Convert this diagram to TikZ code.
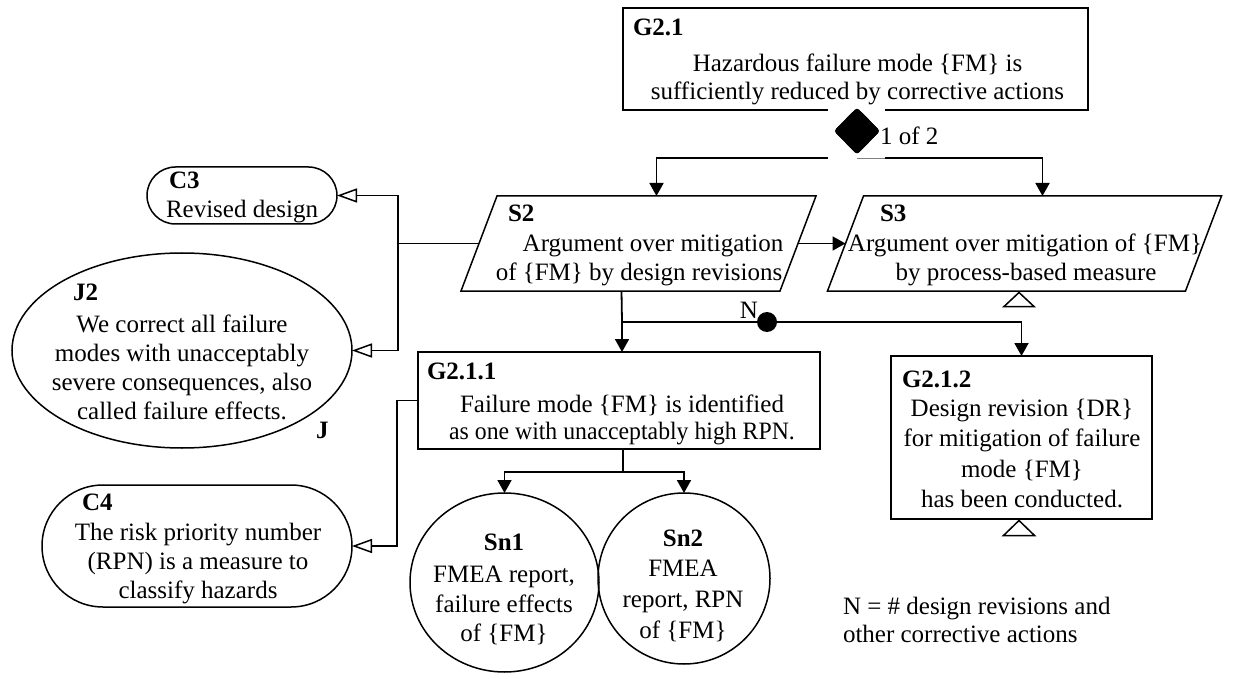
\documentclass[tikz,border=0pt]{standalone}
\usepackage{fontspec}
\usepackage{graphicx}
\setmainfont{Liberation Serif}
\usetikzlibrary{shapes.geometric,arrows.meta,calc}
\begin{document}
\begin{tikzpicture}[x=1pt,y=-1pt,
  every node/.style={font=\fontsize{25}{30}\selectfont, inner sep=0pt, outer sep=0pt},
  boxshape/.style={draw, line width=1.5pt, rectangle},
  parabase/.style={rectangle},
  paraline/.style={line width=1.5pt},
  ell/.style={draw, line width=1.5pt, ellipse},
  ctx/.style={draw, line width=1.5pt, rectangle},
  lb/.style={anchor=base west, font=\fontsize{25}{30}\selectfont\bfseries},
  ln/.style={anchor=base},
  lw/.style={anchor=base west},
  conn/.style={line width=1.8pt},
  arr/.style={line width=1.8pt, -{Triangle[length=13pt,width=14pt]}},
  oarr/.style={line width=1.8pt, -{Triangle[open,length=20pt,width=14pt,line width=1.5pt]}},
  undev/.style={line width=1.5pt}
]
\useasboundingbox (0,0) rectangle (1240,679);

% ---------- shapes ----------
\node[boxshape, minimum width=465, minimum height=102] (G21) at (855.5,59) {};
\node[parabase, minimum width=319, minimum height=95] (S2) at (638.5,243.5) {};
\draw[paraline] ($(S2.south west)+(-18,0)$) -- ($(S2.south east)+(-18,0)$) -- ($(S2.north east)+(18,0)$) -- ($(S2.north west)+(18,0)$) -- cycle;
\node[parabase, minimum width=358, minimum height=95] (S3) at (1024.5,243.5) {};
\draw[paraline] ($(S3.south west)+(-18,0)$) -- ($(S3.south east)+(-18,0)$) -- ($(S3.north east)+(18,0)$) -- ($(S3.north west)+(18,0)$) -- cycle;
\node[ctx, rounded corners=28.5, minimum width=190, minimum height=57] (C3) at (242,195.5) {};
\node[ell, minimum width=340, minimum height=195] (J2) at (182,350.5) {};
\node[boxshape, minimum width=402, minimum height=97] (G211) at (619,400.5) {};
\node[boxshape, minimum width=261, minimum height=163] (G212) at (1021.5,437.5) {};
\node[ctx, rounded corners=61, minimum width=310, minimum height=122] (C4) at (197,546) {};
\node[ell, minimum width=189, minimum height=179] (Sn1) at (504.5,582.5) {};
\node[ell, minimum width=172, minimum height=171] (Sn2) at (684,578.5) {};

% ---------- texts ----------
\node[lb] (tG21) at (633,36) {G2.1};
\node[ln] (bG21a) at (857.5,72) {Hazardous failure mode \{FM\} is};
\node[ln] (bG21b) at (857.5,100) {sufficiently reduced by corrective actions};
\node[lw] (t1of2) at (880,145) {1 of 2};
\node[lb] (tS2) at (508,222) {S2};
\node[ln] (bS2a) at (653,252) {Argument over mitigation};
\node[ln] (bS2b) at (639,280) {of \{FM\} by design revisions};
\node[lb] (tS3) at (880,222) {S3};
\node[ln] (bS3a) at (1025,252) {Argument over mitigation of \{FM\}};
\node[ln] (bS3b) at (1026,280) {by process-based measure};
\node[lb] (tC3) at (169,189) {C3};
\node[lw] (bC3) at (166,218) {Revised design};
\node[lb] (tJ2) at (73,300) {J2};
\node[ln] (bJ2a) at (182,332) {We correct all failure};
\node[ln] (bJ2b) at (182,361) {modes with unacceptably};
\node[ln] (bJ2c) at (182,390) {severe consequences, also};
\node[ln] (bJ2d) at (182,419) {called failure effects.};
\node[lb] (tJ) at (316,438) {J};
\node[lb] (tG211) at (427,379) {G2.1.1};
\node[ln] (bG211a) at (622,412) {Failure mode \{FM\} is identified};
\node[ln] (bG211b) at (622,439) {\scalebox{0.95}[1]{as one with unacceptably high RPN.}};
\node[lb] (tG212) at (902,387) {G2.1.2};
\node[ln] (bG212a) at (1022,416) {Design revision \{DR\}};
\node[ln] (bG212b) at (1022,446) {for mitigation of failure};
\node[ln] (bG212c) at (1022,477) {mode \{FM\}};
\node[ln] (bG212d) at (1022,507) {has been conducted.};
\node[lb] (tC4) at (82,510) {C4};
\node[ln] (bC4a) at (198,540) {The risk priority number};
\node[ln] (bC4b) at (198,569) {(RPN) is a measure to};
\node[ln] (bC4c) at (198,598) {classify hazards};
\node[ln, font=\fontsize{25}{30}\selectfont\bfseries] (tSn1) at (504,550) {Sn1};
\node[ln] (bSn1a) at (504,582) {FMEA report,};
\node[ln] (bSn1b) at (504,612) {failure effects};
\node[ln] (bSn1c) at (504,641) {of \{FM\}};
\node[ln, font=\fontsize{25}{30}\selectfont\bfseries] (tSn2) at (683,546) {Sn2};
\node[ln] (bSn2a) at (683,576) {FMEA};
\node[ln] (bSn2b) at (683,607) {report, RPN};
\node[ln] (bSn2c) at (683,638) {of \{FM\}};
\node[lw] (noteA) at (843,614) {N = \# design revisions and};
\node[lw] (noteB) at (843,642) {other corrective actions};
\node[anchor=base east] (tN) at (758,318) {N};

% ---------- connectors ----------
\node[diamond, fill=black, rounded corners=3pt, minimum width=46, minimum height=47] (D) at (857,131) {};
\coordinate (dL) at ($(D.south)+(-29,3.5)$);
\coordinate (dR) at ($(D.south)+(28,3.5)$);
\draw[arr] (dL) -| ($(S2.north)+(18,0)$);
\draw[arr] (dR) -| ($(S3.north)+(18,0)$);
\draw[gray, line width=0.8pt] ($(D.south)+(0,3.5)$) -- (dR);
\fill[white] ($(G21.south)+(-27.5,-3)$) rectangle ($(G21.south)+(29.5,2)$);
\node[diamond, fill=black, rounded corners=3pt, minimum width=46, minimum height=47] at (D) {};

\draw[arr] (S2.east) -- (S3.west);
\coordinate (jL) at (398,243.5);
\draw[conn] (S2.west) -- (jL);
\draw[oarr] (jL) |- (C3.east);
\draw[oarr] (jL) |- (J2.east);

\coordinate (jB) at (622,322);
\draw[conn] ($(S2.south)+(-17,0)$) -- (jB);
\draw[arr] (jB) -- (jB |- G211.north);
\draw[arr] (jB) -| (G212.north);
\node[circle, fill=black, minimum size=20] (Ndot) at (767,322) {};

\draw[oarr] (G211.west) -- ++(-21,0) |- (C4.east);

\coordinate (jS) at (623,472);
\draw[conn] (G211.south -| jS) -- (jS);
\draw[arr] (jS) -| (Sn1.north);
\draw[arr] (jS) -| (Sn2.north);

% ---------- undeveloped markers ----------
\draw[undev] ($(S3.south)+(-5.5,1.5)$) -- ++(15,14) -- ++(-30,0) -- cycle;
\draw[undev] ($(G212.south)+(-2.5,1.5)$) -- ++(15.5,15) -- ++(-31,0) -- cycle;
\end{tikzpicture}
\end{document}
